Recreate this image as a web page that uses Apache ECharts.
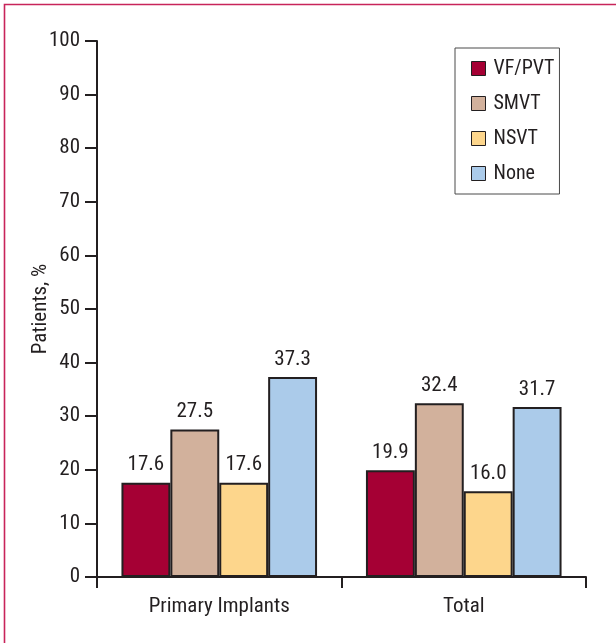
<!DOCTYPE html>
<html>
<head>
<meta charset="utf-8">
<style>
  html, body { margin: 0; padding: 0; background: #ffffff; }
  #chart { width: 616px; height: 643px; }
</style>
<script src="https://cdn.jsdelivr.net/npm/echarts@6/dist/echarts.min.js"></script>
</head>
<body>
<div id="chart"></div>
<script>
// Ventricular arrhythmia type by implant group
const categories = ['Primary Implants', 'Total'];
const seriesNames = ['VF/PVT', 'SMVT', 'NSVT', 'None'];
const vfPvt = [17.6, 19.9];
const smvt = [27.5, 32.4];
const nsvt = [17.6, 16.0];
const none = [37.3, 31.7];
const yTicks = [0, 10, 20, 30, 40, 50, 60, 70, 80, 90, 100];

const seriesValues = [vfPvt, smvt, nsvt, none];
const seriesColors = ['#a50034', '#d2b19c', '#fdd68c', '#abcbea'];

const FONT = '"Liberation Sans Narrow", "Roboto Condensed", "Liberation Sans", sans-serif';
const INK = '#231f20';
const FS = 21;

const chart = echarts.init(document.getElementById('chart'), null, { renderer: 'canvas' });

const option = {
  backgroundColor: '#ffffff',
  animation: false,
  textStyle: { fontFamily: FONT, color: INK },
  graphic: [
    {
      type: 'rect',
      shape: { x: 4.5, y: 4.5, width: 700, height: 700 },
      style: { fill: 'none', stroke: '#c8245a', lineWidth: 1.6 },
      silent: true
    }
  ],
  grid: { left: 97, right: 30, top: 41, bottom: 66, containLabel: false },
  legend: {
    orient: 'vertical',
    left: 455,
    top: 48,
    data: seriesNames,
    itemWidth: 14,
    itemHeight: 14,
    itemGap: 14,
    icon: 'rect',
    padding: [10, 5, 10, 16],
    borderColor: '#4a4a4a',
    borderWidth: 1,
    backgroundColor: '#ffffff',
    itemStyle: { borderColor: INK, borderWidth: 1 },
    textStyle: { fontFamily: FONT, fontSize: 20, color: INK, lineHeight: 21, padding: [0, 0, 0, 3] }
  },
  xAxis: {
    type: 'category',
    data: categories,
    axisLine: { lineStyle: { color: INK, width: 2 } },
    axisTick: { show: true, length: 11, alignWithLabel: false, lineStyle: { color: INK, width: 2 } },
    axisLabel: { fontFamily: FONT, fontSize: FS, color: INK, margin: 19 }
  },
  yAxis: {
    type: 'value',
    min: yTicks[0],
    max: yTicks[yTicks.length - 1],
    interval: yTicks[1] - yTicks[0],
    name: 'Patients, %',
    nameLocation: 'middle',
    nameGap: 46,
    nameRotate: 90,
    nameMoveOverlap: false,
    nameTextStyle: { fontFamily: FONT, fontSize: FS, color: INK },
    axisLine: { show: true, lineStyle: { color: INK, width: 2 } },
    axisTick: { show: true, length: 12, lineStyle: { color: INK, width: 2 } },
    axisLabel: { fontFamily: FONT, fontSize: FS, color: INK, margin: 17 },
    splitLine: { show: false }
  },
  series: seriesNames.map((name, i) => ({
    name: name,
    type: 'bar',
    data: seriesValues[i],
    barGap: '0%',
    barCategoryGap: '20%',
    itemStyle: { color: seriesColors[i], borderColor: INK, borderWidth: 2 },
    label: {
      show: true,
      position: 'top',
      distance: 7,
      fontFamily: FONT,
      fontSize: FS,
      color: INK,
      formatter: p => p.value.toFixed(1)
    }
  }))
};

chart.setOption(option);
</script>
</body>
</html>
